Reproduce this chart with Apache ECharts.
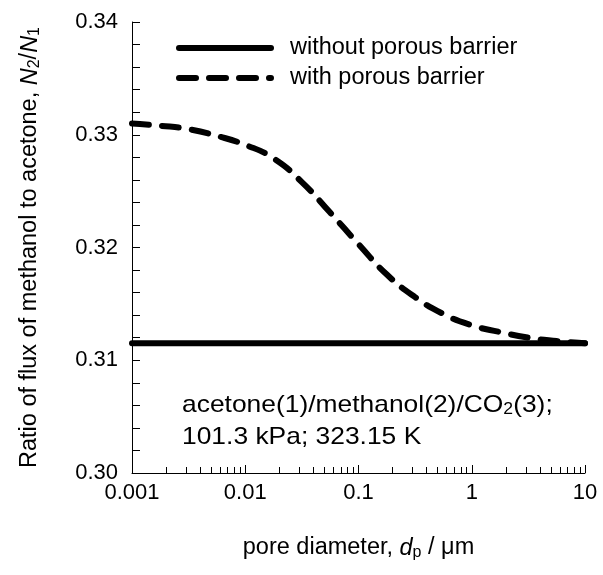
<!DOCTYPE html>
<html>
<head>
<meta charset="utf-8">
<script src="https://cdn.jsdelivr.net/npm/echarts@6/dist/echarts.min.js"></script>
<style>html,body{margin:0;padding:0;background:#fff}#c{width:603px;height:575px}</style>
</head>
<body>
<div id="c"></div>
<script>
// ---- data ----
const seriesNames = ['without porous barrier', 'with porous barrier'];
const withoutX = [0.001, 10];
const withoutY = [0.3115, 0.3115];
const withX = [0.001, 0.00178, 0.00316, 0.00562, 0.01, 0.0178, 0.0316, 0.0562, 0.1, 0.178, 0.316, 0.562, 1, 1.78, 3.16, 5.62, 10];
const withY = [0.3310, 0.3308, 0.3305, 0.3299, 0.3291, 0.3279, 0.3258, 0.3231, 0.3203, 0.3176, 0.3156, 0.3141, 0.3131, 0.3125, 0.3120, 0.3117, 0.3115];
const xTickLabels = [0.001, 0.01, 0.1, 1, 10];
const yTickLabels = [0.30, 0.31, 0.32, 0.33, 0.34];
const minorDecades = [0.001, 0.01, 0.1, 1];
const minorMults = [2, 3, 4, 5, 6, 7, 8, 9];
const minorX = [];
minorDecades.forEach(d => minorMults.forEach(m => minorX.push(+(d * m).toPrecision(3))));

const FONT = 'Liberation Sans';
const chart = echarts.init(document.getElementById('c'), null, {renderer: 'canvas'});
const pair = (xs, ys) => xs.map((x, i) => [x, ys[i]]);
const solidStyle = {color: '#000', width: 6, type: 'solid', cap: 'round'};
const dashStyle = {color: '#000', width: 6, type: [17, 13], cap: 'round', join: 'round'};
const nameRich = {
  i: {fontStyle: 'italic', fontSize: 23.5, fontFamily: FONT},
  sub: {fontSize: 16, fontFamily: FONT, padding: [10, 0, 0, 0], lineHeight: 16}
};

chart.setOption({
  animation: false,
  backgroundColor: '#fff',
  textStyle: {fontFamily: FONT, color: '#000'},
  grid: {left: 132, right: 18, top: 22, bottom: 102, containLabel: false},
  legend: {
    orient: 'vertical', left: 171, top: 31, itemWidth: 92, itemHeight: 24, itemGap: 6,
    data: [
      {name: seriesNames[0], lineStyle: solidStyle, itemStyle: {opacity: 0}},
      {name: seriesNames[1], lineStyle: dashStyle, itemStyle: {opacity: 0}}
    ],
    textStyle: {fontFamily: FONT, fontSize: 23.5, lineHeight: 24, color: '#000', padding: [0, 0, 0, 14]},
    selectedMode: false
  },
  xAxis: [{
    type: 'log', logBase: 10, min: xTickLabels[0], max: xTickLabels[xTickLabels.length - 1],
    name: 'pore diameter, {i|d}{sub|p} / μm', nameLocation: 'middle', nameGap: 63,
    nameTextStyle: {fontFamily: FONT, fontSize: 23.5, color: '#000', rich: nameRich},
    axisLine: {show: true, lineStyle: {color: '#000', width: 1}},
    axisTick: {show: true, inside: true, length: 8, lineStyle: {color: '#000'}},
    axisLabel: {fontFamily: FONT, fontSize: 22, color: '#000', margin: 9,
      customValues: xTickLabels, formatter: v => String(v)},
    splitLine: {show: false}, minorTick: {show: false}
  }, {
    type: 'log', logBase: 10, min: xTickLabels[0], max: xTickLabels[xTickLabels.length - 1],
    position: 'bottom',
    axisLine: {show: false},
    axisTick: {show: true, inside: true, length: 6, customValues: minorX, lineStyle: {color: '#000'}},
    axisLabel: {show: false},
    splitLine: {show: false}
  }],
  yAxis: {
    type: 'value', min: yTickLabels[0], max: yTickLabels[yTickLabels.length - 1], interval: 0.01,
    name: 'Ratio of flux of methanol to acetone, {i|N}{sub|2}/{i|N}{sub|1}',
    nameLocation: 'middle', nameGap: 90, nameRotate: 90,
    nameTextStyle: {fontFamily: FONT, fontSize: 23.5, color: '#000', rich: nameRich},
    axisLine: {show: true, lineStyle: {color: '#000', width: 1}},
    axisTick: {show: true, inside: true, length: 8, lineStyle: {color: '#000'}},
    minorTick: {show: true, splitNumber: 5, length: 8, lineStyle: {color: '#000'}},
    axisLabel: {fontFamily: FONT, fontSize: 22, color: '#000', margin: 14, formatter: v => v.toFixed(2)},
    splitLine: {show: false}, minorSplitLine: {show: false}
  },
  graphic: [{
    type: 'text', x: 182, y: 389, scaleX: 1.1,
    style: {
      text: 'acetone(1)/methanol(2)/CO{sub|2}(3);\n101.3 kPa; 323.15 K',
      font: '24px "Liberation Sans"', fill: '#000', lineHeight: 32,
      rich: {sub: {fontSize: 16, fontFamily: FONT, padding: [10, 0, 0, 0], lineHeight: 16}}
    }
  }],
  series: [{
    name: seriesNames[0], type: 'line', xAxisIndex: 0, showSymbol: false, symbol: 'none',
    data: pair(withoutX, withoutY),
    lineStyle: solidStyle, itemStyle: {color: '#000'}
  }, {
    name: seriesNames[1], type: 'line', xAxisIndex: 0, showSymbol: false, symbol: 'none',
    smooth: 0.5,
    data: pair(withX, withY),
    lineStyle: dashStyle, itemStyle: {color: '#000'}
  }]
});
</script>
</body>
</html>
